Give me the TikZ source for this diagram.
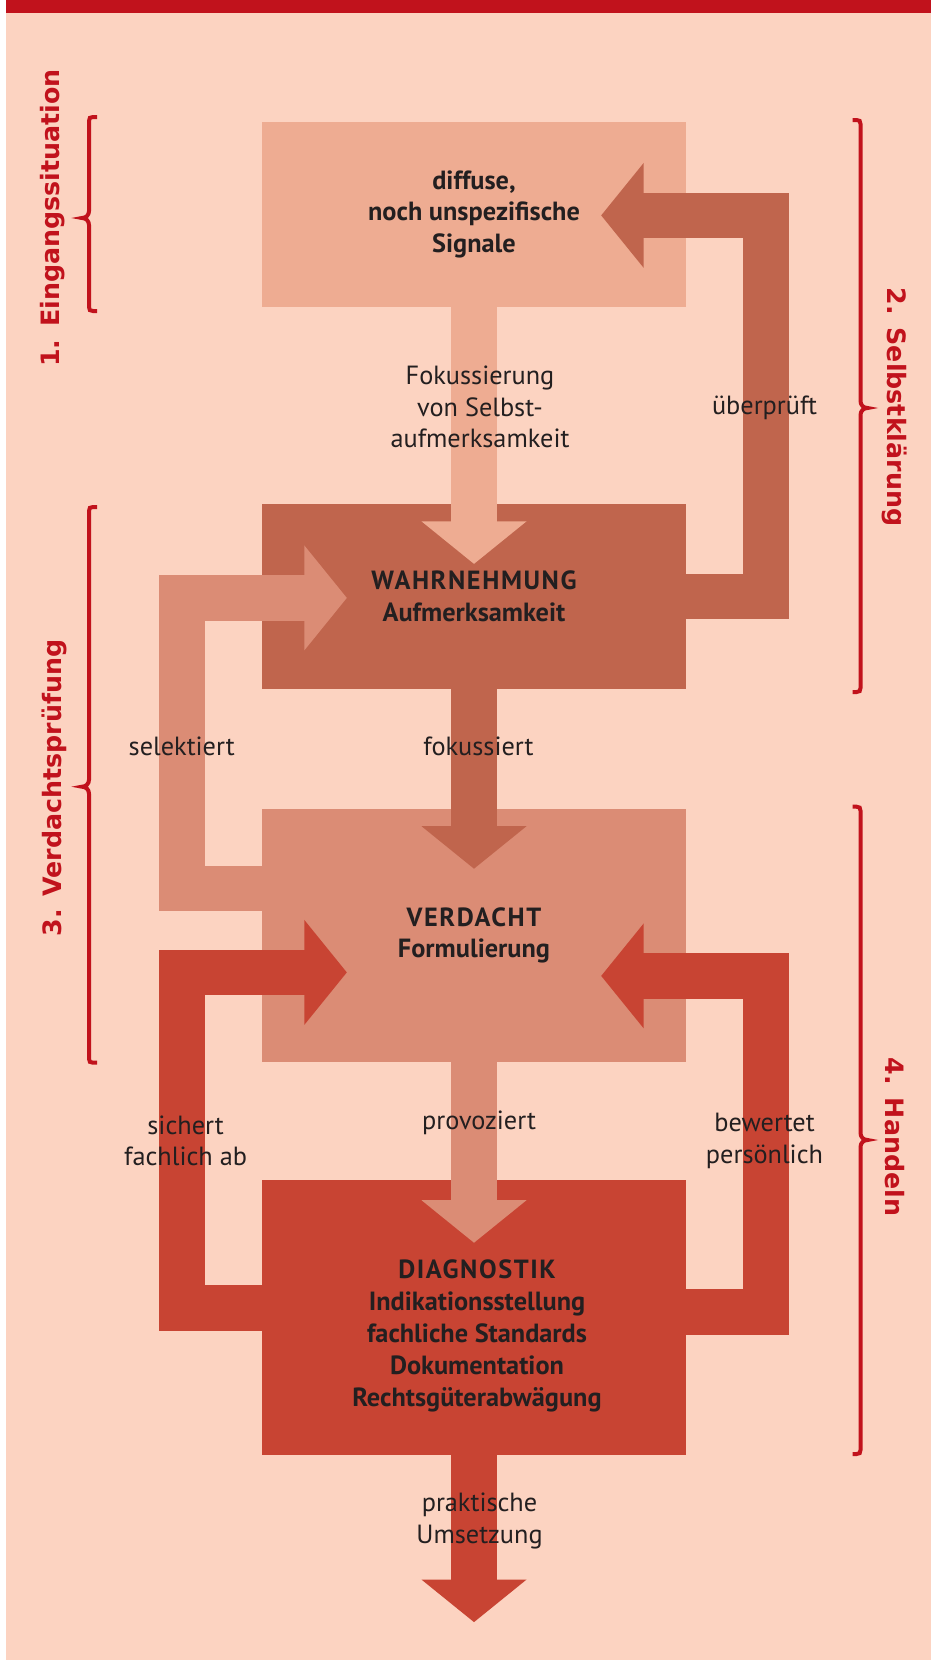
\documentclass[tikz,border=0pt]{standalone}
\usepackage{fontspec}
\setmainfont{PT Sans}
\newfontfamily\sidefont{DejaVu Sans}
\usetikzlibrary{calc}
\definecolor{bg}{HTML}{FCD3C1}
\definecolor{topred}{HTML}{C1121C}
\definecolor{cA}{HTML}{EEAC92}
\definecolor{cB}{HTML}{C0654D}
\definecolor{cC}{HTML}{DB8C75}
\definecolor{cD}{HTML}{C84433}
\definecolor{ink}{HTML}{231F20}
\newcommand\caps[1]{{\addfontfeatures{LetterSpace=6}#1}}
\newcommand\HeadDown[2]{\fill[#1] (#2) -- ++(-52.5,-42.5) -- ++(105,0) -- cycle;}
\newcommand\HeadLeft[2]{\fill[#1] (#2) -- ++(42.5,-52.5) -- ++(0,105) -- cycle;}
\newcommand\HeadRight[2]{\fill[#1] (#2) -- ++(-42.5,-52.5) -- ++(0,105) -- cycle;}
% brace: x of line, top, bottom, cusp y, direction (+1 cusp left / -1 cusp right)
\newcommand\BraceAt[5]{%
  \draw[brc] ({#1+8*#5},#2) -- ({#1+4*#5},#2) .. controls ({#1+1*#5},#2) and (#1,{#2+1}) .. (#1,{#2+4})
    -- (#1,{#4-7}) .. controls (#1,{#4-3}) and ({#1-3*#5},#4) .. ({#1-7*#5},#4)
    .. controls ({#1-3*#5},#4) and (#1,{#4+3}) .. (#1,{#4+7})
    -- (#1,{#3-4}) .. controls (#1,{#3-1}) and ({#1+1*#5},#3) .. ({#1+4*#5},#3) -- ({#1+8*#5},#3);}
\begin{document}
\begin{tikzpicture}[x=1pt,y=-1pt,
  box/.style={rectangle, minimum width=424pt, inner sep=0pt, text=ink, align=center,
    font=\bfseries\fontsize{26.3}{31.7}\selectfont},
  lbl/.style={inner sep=0pt, text=ink, align=center, font=\fontsize{26.3}{31.5}\selectfont},
  btxt/.style={inner sep=0pt, text=ink, align=center, font=\bfseries\fontsize{26.3}{31.9}\selectfont},
  side/.style={inner sep=0pt, text=topred, font=\sidefont\bfseries\fontsize{25.3}{29}\selectfont},
  shaft/.style={line width=45.7pt, line join=miter, line cap=butt},
  brc/.style={draw=topred, line width=4pt, line cap=butt}]
\useasboundingbox (0,0) rectangle (931,1660);
\fill[white] (0,0) rectangle (931,1660);
\fill[bg] (6,0) rectangle (931,1660);
\fill[topred] (6,0) rectangle (931,12.7);

% boxes
\node[box, fill=cA, minimum height=184.7pt] (b1) at (474,214.4) {diffuse,\\noch unspezifische\\Signale};
\node[box, fill=cB, minimum height=184.7pt] (b2) at (474,596.4) {\caps{WAHRNEHMUNG}\\Aufmerksamkeit};
\node[box, fill=cC, minimum height=253pt] (b3) at (474,935.4) {\caps{VERDACHT}\\Formulierung};
\node[box, fill=cD, minimum height=275pt] (b4) at (474,1317.4) {};
\node[btxt] (d4) at ($(b4.center)+(3,18.5)$) {\caps{DIAGNOSTIK}\\Indikationsstellung\\fachliche Standards\\Dokumentation\\Rechtsgüterabwägung};

% tips
\coordinate (t1) at ($(b2.north)+(0,60)$);
\coordinate (t2) at ($(b3.north)+(0,60)$);
\coordinate (t3) at ($(b4.north)+(0,63)$);
\coordinate (t4) at ($(b4.south)+(0,167)$);
\coordinate (tU) at ($(b1.east)+(-85,1)$);
\coordinate (tS) at ($(b2.west)+(85,1.5)$);
\coordinate (tF) at ($(b3.west)+(85,37)$);
\coordinate (tP) at ($(b3.east)+(-85,40.5)$);

% central arrows
\draw[shaft, cA] (b1.south) -- ($(t1)+(0,-40)$); \HeadDown{cA}{t1}
\draw[shaft, cB] (b2.south) -- ($(t2)+(0,-40)$); \HeadDown{cB}{t2}
\draw[shaft, cC] (b3.south) -- ($(t3)+(0,-40)$); \HeadDown{cC}{t3}
\draw[shaft, cD] (b4.south) -- ($(t4)+(0,-40)$); \HeadDown{cD}{t4}

% side arrows
\draw[shaft, cB] (b2.east) -| ($(b1.east)+(80,1)$) -- ($(tU)+(40,0)$); \HeadLeft{cB}{tU}
\draw[shaft, cC] ($(b3.west)+(0,-47)$) -| ($(b2.west)+(-80,1.5)$) -- ($(tS)+(-40,0)$); \HeadRight{cC}{tS}
\draw[shaft, cD] ($(b4.west)+(0,-9.5)$) -| ($(b3.west)+(-80,37)$) -- ($(tF)+(-40,0)$); \HeadRight{cD}{tF}
\draw[shaft, cD] ($(b4.east)+(0,-5.5)$) -| ($(b3.east)+(80,40.5)$) -- ($(tP)+(40,0)$); \HeadLeft{cD}{tP}

% labels
\node[lbl] (lFok) at (480,407) {Fokussierung\\von Selbst-\\aufmerksamkeit};
\node[lbl] (lUeb) at (764.5,408) {überprüft};
\node[lbl] (lSel) at (181.7,746.7) {selektiert};
\node[lbl] (lFo2) at (478.5,746.7) {fokussiert};
\node[lbl] (lSich) at (185.6,1141) {sichert\\fachlich ab};
\node[lbl] (lPro) at (479,1122.7) {provoziert};
\node[lbl] (lBew) at (764.5,1141) {bewertet\\persönlich};
\node[lbl] (lPra) at (479.5,1521) {praktische\\Umsetzung};

% braces
\BraceAt{89}{117}{311}{218}{1}
\BraceAt{89}{507}{1062.7}{786.7}{1}
\BraceAt{860.5}{120}{692}{408}{-1}
\BraceAt{860.5}{806.7}{1454}{1140}{-1}

% side labels
\node[side, rotate=90] (s1) at (53,218) {1.\hspace{0.5em}Eingangssituation};
\node[side, rotate=90] (s3) at (54,788) {3.\hspace{0.5em}Verdachtsprüfung};
\node[side, rotate=-90] (s2) at (895,407) {2.\hspace{0.5em}Selbstklärung};
\node[side, rotate=-90] (s4) at (895,1137) {4.\hspace{0.5em}Handeln};
\end{tikzpicture}
\end{document}
